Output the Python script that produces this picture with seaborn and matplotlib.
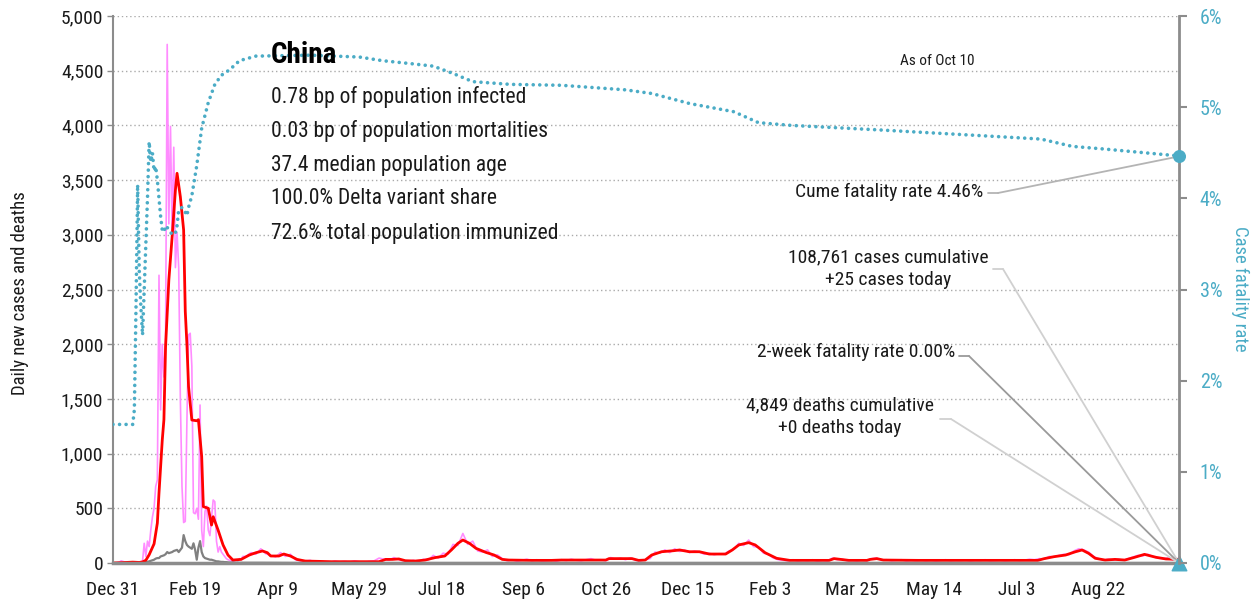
import pandas as pd
import matplotlib
matplotlib.use('Agg')
import matplotlib.pyplot as plt
from matplotlib import font_manager
import seaborn as sns

# data, days counted from Dec 31 2019
start = pd.Timestamp('2019-12-31')

# daily new cases, every day up to day 79
cases_early = [0, 0, 0, 5, 10, 20, 15, 10, 5, 0, 0, 0, 0,
               0, 0, 0, 0, 5, 20,
               180, 60, 200, 150, 300, 420, 500, 700, 760,
               2630, 1400, 2000, 1700, 2060, 4740, 3100, 3990, 3000, 3800, 2700, 3020, 2700,
               1500, 700, 370, 380, 1300, 2085, 2100, 1800, 460, 450, 500, 400,
               1444, 300, 150, 470, 520, 300, 250, 420, 576, 560, 200, 100,
               150, 100, 80, 60, 40, 30, 25, 20, 15, 20, 30, 20, 40, 30, 60]
# daily new cases, every third day from day 81
cases_late = [60, 95, 80, 130, 85, 70, 55, 95, 60, 80,
              30, 20, 15, 25, 8, 15, 10, 5, 18, 10,
              15, 8, 20, 10, 5, 15, 20, 45, 35, 25,
              50, 30, 20, 15, 25, 12, 35, 28, 70, 45,
              90, 80, 170, 160, 270, 170, 200, 110, 100, 120,
              60, 75, 40, 20, 30, 15, 25, 35, 20, 30,
              18, 22, 28, 15, 30, 22, 35, 25, 20, 30,
              40, 25, 30, 20, 50, 35, 45, 30, 48, 25,
              20, 30, 40, 100, 90, 120, 95, 130, 105, 120,
              95, 110, 100, 80, 90, 75, 85, 80, 110, 125,
              180, 160, 210, 150, 145, 90, 80, 45, 30, 25,
              20, 30, 18, 25, 20, 30, 15, 25, 20, 45,
              30, 35, 20, 25, 18, 28, 20, 40, 45, 25,
              30, 20, 25, 30, 18, 25, 22, 28, 20, 26,
              18, 24, 30, 20, 25, 22, 28, 18, 25, 22,
              30, 20, 24, 27, 20, 25, 30, 22, 26, 35,
              30, 40, 35, 60, 55, 70, 80, 75, 110, 130,
              120, 100, 60, 40, 25, 35, 28, 35, 25, 40,
              55, 70, 65, 80, 60, 45, 40, 45, 30, 40]
last_day = 649
cases_today = 25

# 7-day average
avg_days = [0, 8, 12, 16, 18, 20, 22, 25, 27, 28, 30, 31, 32, 34, 36, 38, 39, 41, 43, 44,
            45, 46, 48, 51, 52, 54, 55, 58, 60, 61, 64, 67, 70, 73, 78, 83, 87, 91, 94, 96,
            101, 104, 108, 112, 117, 133, 150, 162, 166, 170, 174, 178, 184, 190, 196, 202,
            206, 210, 213, 217, 221, 227, 232, 237, 241, 255, 267, 273, 300, 302, 316, 320,
            324, 328, 334, 341, 345, 351, 357, 363, 373, 377, 381, 387, 391, 397, 404, 412,
            436, 439, 443, 448, 459, 461, 465, 469, 490, 520, 540, 563, 567, 573, 580, 586,
            590, 594, 598, 604, 610, 616, 622, 628, 635, 641, 649]
avg_cases = [0, 5, 8, 5, 10, 25, 75, 175, 365, 640, 1125, 1310, 1977, 2587, 2982, 3410, 3562, 3348, 3044, 2300,
             2000, 1611, 1307, 1300, 1310, 972, 515, 500, 347, 423, 300, 165, 73, 27, 33, 73, 94, 110, 94, 64,
             64, 82, 64, 33, 18, 12, 12, 12, 33, 33, 37, 21, 18, 27, 49, 64,
             119, 180, 210, 180, 134, 97, 73, 33, 27, 24, 24, 27, 27, 40, 40, 24,
             27, 73, 103, 112, 119, 103, 103, 82, 82, 119, 165, 186, 165, 94, 43, 24,
             24, 40, 33, 24, 24, 33, 40, 27, 24, 24, 24, 24, 40, 58, 73, 103,
             119, 88, 43, 27, 33, 27, 52, 79, 52, 37, 33]

# daily deaths
deaths_early = [0] * 18 + [2, 5, 8, 10, 15, 20, 25, 30, 40, 45,
                           45, 60, 65, 70, 80, 100, 90, 95, 100, 110, 115, 120, 100,
                           120, 140, 255, 200, 165, 150, 140, 130, 180, 120, 30, 140,
                           200, 100, 60, 45, 40, 35, 30, 30, 25, 20, 15, 15,
                           12, 10, 10, 8, 8, 6, 5, 5, 4, 3, 3, 3, 2, 2, 2]
deaths_late_days = [90, 120, 300, 500, 649]
deaths_late = [2, 0, 0, 0, 0]

# case fatality rate, %
cfr_days = [0, 12, 13, 14, 15, 16, 17, 18, 19, 20, 21, 22, 23, 24, 25, 26, 27, 28, 29, 30,
            31, 32, 34, 36, 38, 39, 40, 42, 44, 45, 46, 48, 51, 54, 58, 62, 66, 71, 77, 87,
            120, 150, 164, 180, 195, 207, 219, 242, 273, 312, 328, 351, 378, 393, 413, 467,
            526, 565, 584, 604, 646, 649]
cfr_pct = [1.52, 1.52, 1.68, 2.8, 4.15, 3.2, 2.8, 2.5, 3.0, 3.5, 4.0, 4.62, 4.4, 4.5, 4.3, 4.35, 4.2, 4.0, 3.8, 3.65,
           3.63, 3.7, 3.66, 3.6, 3.62, 3.7, 3.87, 3.9, 3.85, 3.81, 3.9, 4.03, 4.36, 4.77, 5.05, 5.25, 5.35, 5.41, 5.51, 5.56,
           5.57, 5.55, 5.51, 5.48, 5.45, 5.37, 5.28, 5.25, 5.24, 5.19, 5.15, 5.04, 4.95, 4.83, 4.8, 4.75,
           4.69, 4.65, 4.57, 4.54, 4.47, 4.46]

stats = ['0.78 bp of population infected',
         '0.03 bp of population mortalities',
         '37.4 median population age',
         '100.0% Delta variant share',
         '72.6% total population immunized']


def to_dates(days):
    return start + pd.to_timedelta(days, unit='D')


cases_days = list(range(len(cases_early))) + list(range(81, 81 + 3 * len(cases_late), 3)) + [last_day]
df_cases = pd.DataFrame({'date': to_dates(cases_days), 'cases': cases_early + cases_late + [cases_today]})
df_avg = pd.DataFrame({'date': to_dates(avg_days), 'avg': avg_cases})
deaths_days = list(range(len(deaths_early))) + deaths_late_days
df_deaths = pd.DataFrame({'date': to_dates(deaths_days), 'deaths': deaths_early + deaths_late})
df_cfr = pd.DataFrame({'date': to_dates(cfr_days), 'cfr': cfr_pct})
end_date = start + pd.Timedelta(days=last_day)

# fonts
sns.set_style('white')
names = {f.name for f in font_manager.fontManager.ttflist}
font = 'Liberation Sans'
for cand in ['Liberation Sans Narrow', 'Roboto Condensed', 'Open Sans Condensed']:
    if cand in names:
        font = cand
        break
plt.rcParams['font.family'] = [font, 'DejaVu Sans']

W, H = 1259, 606
teal = '#4bacc6'
dark = '#1a1a1a'


def px(x, y):
    return x / W, 1 - y / H


fig = plt.figure(figsize=(W / 100, H / 100), dpi=100)
ax = fig.add_axes([113 / W, 43 / H, 1066 / W, 547 / H])
ax2 = ax.twinx()

sns.lineplot(data=df_cases, x='date', y='cases', ax=ax, color='#ff8cff', linewidth=1.2)
sns.lineplot(data=df_deaths, x='date', y='deaths', ax=ax, color='#808080', linewidth=1.6)
sns.lineplot(data=df_avg, x='date', y='avg', ax=ax, color='#ff0000', linewidth=2.0)
sns.lineplot(data=df_cfr, x='date', y='cfr', ax=ax2, color=teal, linewidth=2.6)
cfr_line = ax2.lines[-1]
cfr_line.set_linestyle((0, (0.01, 1.8)))
cfr_line.set_dash_capstyle('round')

ax2.scatter([end_date], [cfr_pct[-1]], s=70, color=teal, zorder=5, clip_on=False)
ax.scatter([end_date], [0], s=110, marker='^', color=teal, zorder=6, clip_on=False)

# axes
ax.set_xlim(start, end_date)
ax.set_ylim(0, 5000)
ax2.set_ylim(0, 6)
ax.set_yticks(range(0, 5001, 500))
ax.set_yticklabels([f'{v:,}' for v in range(0, 5001, 500)])
ax2.set_yticks(range(0, 7))
ax2.set_yticklabels([f'{v}%' for v in range(0, 7)])
tick_dates = pd.date_range(start, periods=13, freq='50D')
ax.set_xticks(tick_dates)
ax.set_xticklabels([f"{d.strftime('%b')} {d.day}" for d in tick_dates])
ax.set_xlabel('')
ax.set_ylabel('')
ax2.set_ylabel('')

ax.yaxis.grid(True, linestyle=(0, (1, 2)), color='#aaaaaa', linewidth=1)
ax.set_axisbelow(True)

for a in (ax, ax2):
    a.spines['top'].set_visible(False)
ax.spines['left'].set_color('#8c8c8c')
ax.spines['left'].set_linewidth(1.5)
ax.spines['bottom'].set_color('#8c8c8c')
ax.spines['bottom'].set_linewidth(2.5)
ax.spines['right'].set_visible(False)
ax2.spines['left'].set_visible(False)
ax2.spines['bottom'].set_visible(False)
ax2.spines['right'].set_color('#8c8c8c')
ax2.spines['right'].set_linewidth(2)

ax.tick_params(axis='x', length=7, width=1.5, color='#8c8c8c', labelsize=14, labelcolor=dark, pad=6)
ax.tick_params(axis='y', length=4, width=1, color='#8c8c8c', labelsize=14, labelcolor=dark, pad=3)
ax2.tick_params(axis='y', length=6, width=1.5, color='#8c8c8c', labelsize=14.5, labelcolor=teal, pad=9)

fig.text(*px(20, 293), 'Daily new cases and deaths', rotation=90, ha='center', va='center',
         fontsize=13.5, color=dark)
fig.text(*px(1240, 289), 'Case fatality rate', rotation=270, ha='center', va='center',
         fontsize=13.5, color=teal)

# country block
fig.text(*px(271, 55), 'China', fontsize=21, fontweight='bold', color='black', ha='left', va='center')
for i, line in enumerate(stats):
    fig.text(*px(271, 97 + 34 * i), line, fontsize=15.5, color=dark, ha='left', va='center')
fig.text(*px(937, 61), 'As of Oct 10', fontsize=11, color=dark, ha='center', va='center')

# callouts
fig.text(*px(983, 192), 'Cume fatality rate 4.46%', fontsize=14, color=dark, ha='right', va='center')
fig.text(*px(888, 269), f'108,761 cases cumulative\n+{cases_today} cases today', fontsize=14,
         color=dark, ha='center', va='center', multialignment='center', linespacing=1.35)
fig.text(*px(955, 352), '2-week fatality rate 0.00%', fontsize=14, color=dark, ha='right', va='center')
fig.text(*px(840, 417), '4,849 deaths cumulative\n+0 deaths today', fontsize=14,
         color=dark, ha='center', va='center', multialignment='center', linespacing=1.35)

leaders = [(988, 998, 193, '#b4b4b4', ax2, cfr_pct[-1]),
           (993, 1003, 269, '#d0d0d0', ax, 0),
           (959, 969, 356, '#9a9a9a', ax, 0),
           (940, 951, 419, '#d0d0d0', ax, 0)]
for x0, x1, y, c, a, yv in leaders:
    fig.add_artist(plt.Line2D([x0 / W, x1 / W], [1 - y / H, 1 - y / H], color=c, lw=1.3,
                              transform=fig.transFigure))
    a.annotate('', xy=(end_date, yv), xycoords='data', xytext=px(x1, y), textcoords='figure fraction',
               arrowprops=dict(arrowstyle='-', color=c, lw=1.3, shrinkA=0, shrinkB=0),
               annotation_clip=False)

fig.savefig('out.png', dpi=100)
